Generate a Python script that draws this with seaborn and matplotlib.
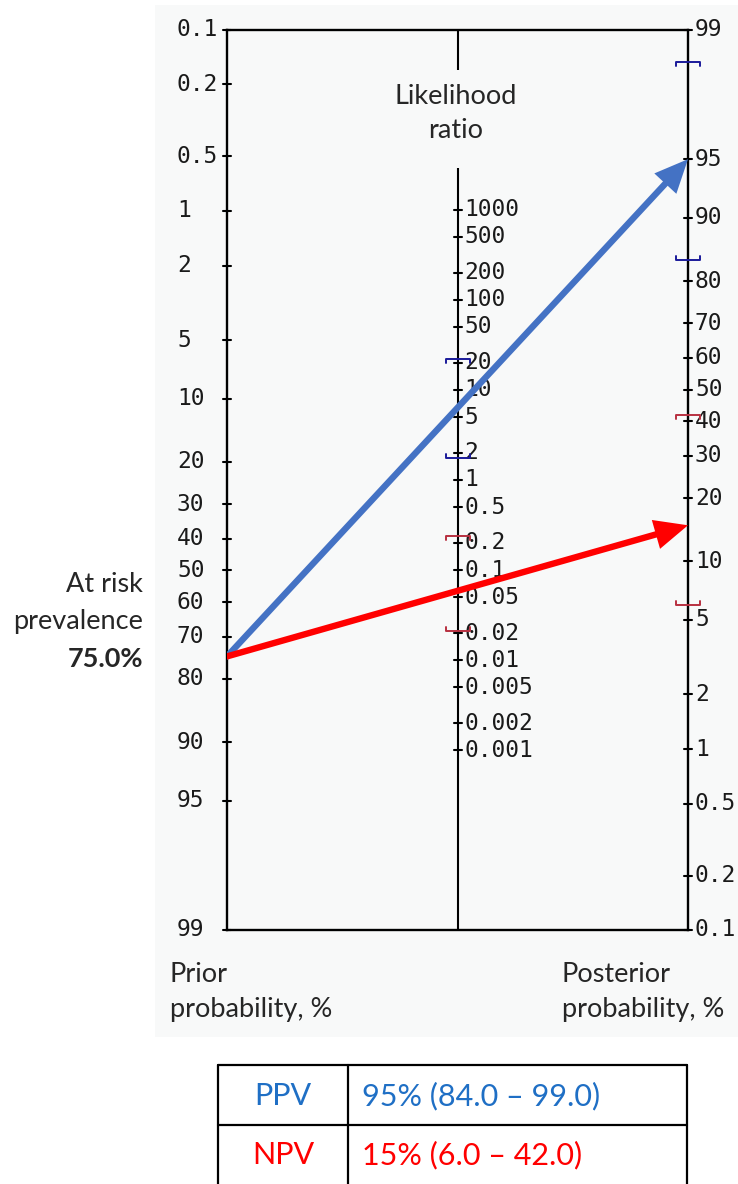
import numpy as np
import pandas as pd
import matplotlib
matplotlib.use("Agg")
import matplotlib.pyplot as plt
from matplotlib.patches import Rectangle
from matplotlib.lines import Line2D
import seaborn as sns

# ---------------- data ----------------
prior_ticks = [0.1, 0.2, 0.5, 1, 2, 5, 10, 20, 30, 40, 50, 60, 70, 80, 90, 95, 99]
lr_ticks = [1000, 500, 200, 100, 50, 20, 10, 5, 2, 1, 0.5, 0.2, 0.1, 0.05, 0.02,
            0.01, 0.005, 0.002, 0.001]
post_ticks = [99, 95, 90, 80, 70, 60, 50, 40, 30, 20, 10, 5, 2, 1, 0.5, 0.2, 0.1]

prior_prev = 75.0
tests = ["PPV", "NPV"]
posterior = [95.0, 15.0]
post_ci_low = [84.0, 6.0]
post_ci_high = [98.5, 42.0]
lr_ci_low = [1.75, 0.021]
lr_ci_high = [22.0, 0.24]
table_values = ["95% (84.0 \u2013 99.0)", "15% (6.0 \u2013 42.0)"]
colors_arrow = ["#4472C4", "#FF0000"]
colors_ci = ["#1a1a9a", "#b83040"]
colors_text = ["#1F6FC5", "#FF0000"]

# ---------------- helpers ----------------
W, H = 738, 1184
def logit(p):
    return np.log(p / (1 - p))

P_TOP, P_BOT = 0.001, 0.99
U_MAX = logit(P_BOT) - logit(P_TOP)

def u_left(p):
    return logit(p / 100.0) - logit(P_TOP)

def u_right(p):
    return logit(P_BOT) - logit(p / 100.0)

def u_mid(lr):
    return (U_MAX - np.log(lr)) / 2.0

def fx(x):
    return x / W

def fy(y):
    return 1 - y / H

sns.set_theme(style="white")
plt.rcParams["font.family"] = ["Lato", "DejaVu Sans"]

fig = plt.figure(figsize=(W / 100, H / 100), dpi=100)
fig.patch.set_facecolor("white")
panel = "#f8f9f9"
fig.add_artist(Rectangle((fx(155), fy(1037)), 1 - fx(155), fy(5) - fy(1037),
                         transform=fig.transFigure, facecolor=panel,
                         edgecolor="none", zorder=0))

ax = fig.add_axes([fx(227), fy(930), fx(688) - fx(227), fy(30) - fy(930)])
ax.set_facecolor("none")
ax.set_xlim(0, 2)
ax.set_ylim(U_MAX, 0)
ax.set_xticks([])
ax.set_yticks([])
for s in ax.spines.values():
    s.set_color("black")
    s.set_linewidth(1.7)
    s.set_visible(True)

px_x = 461 / 2.0   # pixels per x unit
px_u = 900 / U_MAX  # pixels per u unit

# middle axis with a gap for its title
ax.plot([1, 1], [0, 40 / px_u], color="black", lw=1.5, solid_capstyle="butt")
ax.plot([1, 1], [138 / px_u, U_MAX], color="black", lw=1.5, solid_capstyle="butt")

tick_half = 4 / px_x
mono = "DejaVu Sans Mono"
fs_tick = 16.5
tick_col = "#1a1a1a"

for v in prior_ticks:
    u = u_left(v)
    ax.plot([0 - tick_half, 0 + tick_half], [u, u], color="black", lw=1.5, clip_on=False)
    ax.annotate(f"{v:g}", xy=(0, u), xytext=(-50 * 0.72, 0), textcoords="offset points",
                ha="left", va="center", fontsize=fs_tick, family=mono, color=tick_col,
                annotation_clip=False)
for v in lr_ticks:
    u = u_mid(v)
    ax.plot([1 - tick_half, 1 + tick_half], [u, u], color="black", lw=1.5)
    ax.annotate(f"{v:g}", xy=(1, u), xytext=(7 * 0.72, 0), textcoords="offset points",
                ha="left", va="center", fontsize=fs_tick, family=mono, color=tick_col,
                annotation_clip=False)
for v in post_ticks:
    u = u_right(v)
    ax.plot([2 - tick_half, 2 + tick_half], [u, u], color="black", lw=1.5, clip_on=False)
    ax.annotate(f"{v:g}", xy=(2, u), xytext=(7 * 0.72, 0), textcoords="offset points",
                ha="left", va="center", fontsize=fs_tick, family=mono, color=tick_col,
                annotation_clip=False)

# arrows (shafts via seaborn)
rows = []
for t, post in zip(tests, posterior):
    rows.append({"test": t, "x": 0.0, "u": u_left(prior_prev)})
    rows.append({"test": t, "x": 2.0, "u": u_right(post)})
df = pd.DataFrame(rows)
frac = 0.955
for i, t in enumerate(tests):
    sub = df[df.test == t]
    x0, u0 = sub.x.iloc[0], sub.u.iloc[0]
    x1, u1 = sub.x.iloc[1], sub.u.iloc[1]
    seg = pd.DataFrame({"x": [x0, x0 + frac * (x1 - x0)],
                        "u": [u0, u0 + frac * (u1 - u0)]})
    sns.lineplot(data=seg, x="x", y="u", ax=ax, color=colors_arrow[i], lw=4.6,
                 sort=False, estimator=None, zorder=5 + i)
    ax.annotate("", xy=(x1, u1), xytext=(x0 + 0.9 * (x1 - x0), u0 + 0.9 * (u1 - u0)),
                arrowprops=dict(arrowstyle="-|>,head_length=1.0,head_width=0.45",
                                color=colors_arrow[i], lw=0, mutation_scale=24,
                                shrinkA=0, shrinkB=0), zorder=5 + i)
ax.set_xlabel("")
ax.set_ylabel("")
ax.set_xlim(0, 2)
ax.set_ylim(U_MAX, 0)

# CI marks
mw = 12 / px_x
mh = 4 / px_u
for i in range(len(tests)):
    for (xc, u, up) in [(1, u_mid(lr_ci_high[i]), True), (1, u_mid(lr_ci_low[i]), False),
                        (2, u_right(post_ci_high[i]), True), (2, u_right(post_ci_low[i]), False)]:
        d = mh if up else -mh
        ax.plot([xc - mw, xc - mw, xc + mw, xc + mw], [u + d, u, u, u + d],
                color=colors_ci[i], lw=1.4, zorder=4, clip_on=False)

# texts
txt_fs = 19.5
fig.text(fx(456), fy(97), "Likelihood", ha="center", va="center", fontsize=txt_fs)
fig.text(fx(456), fy(131), "ratio", ha="center", va="center", fontsize=txt_fs)
fig.text(fx(170), fy(975), "Prior", ha="left", va="center", fontsize=txt_fs)
fig.text(fx(170), fy(1009), "probability, %", ha="left", va="center", fontsize=txt_fs)
fig.text(fx(562), fy(975), "Posterior", ha="left", va="center", fontsize=txt_fs)
fig.text(fx(562), fy(1009), "probability, %", ha="left", va="center", fontsize=txt_fs)
fig.text(fx(143), fy(585), "At risk", ha="right", va="center", fontsize=txt_fs)
fig.text(fx(143), fy(622), "prevalence", ha="right", va="center", fontsize=txt_fs)
fig.text(fx(143), fy(659), f"{prior_prev:.1f}%", ha="right", va="center",
         fontsize=txt_fs, fontweight="bold")

# table
tl, tm, tr = 218, 348, 687
ty = [1065, 1125]
lw_t = 1.6
for x in (tl, tm, tr):
    fig.add_artist(Line2D([fx(x), fx(x)], [fy(1065), 0], transform=fig.transFigure,
                          color="black", lw=lw_t))
for y in ty:
    fig.add_artist(Line2D([fx(tl), fx(tr)], [fy(y), fy(y)], transform=fig.transFigure,
                          color="black", lw=lw_t))
row_c = [1096, 1155]
for i, t in enumerate(tests):
    fig.text(fx((tl + tm) / 2), fy(row_c[i]), t, ha="center", va="center",
             fontsize=22, color=colors_text[i])
    fig.text(fx(362), fy(row_c[i]), table_values[i], ha="left", va="center",
             fontsize=22, color=colors_text[i])

fig.savefig("out.png", dpi=100)
